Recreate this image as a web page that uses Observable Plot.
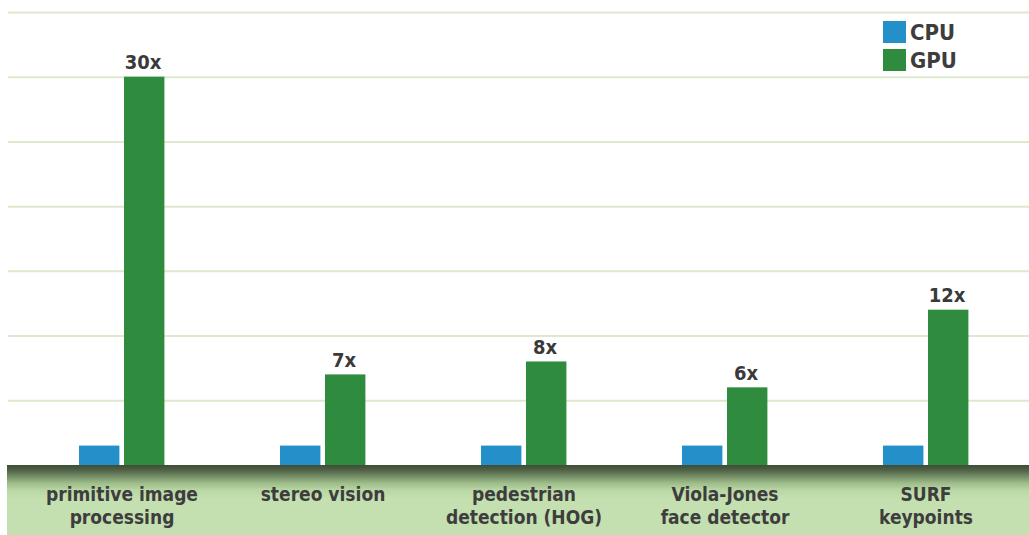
<!DOCTYPE html>
<html>
<head>
<meta charset="utf-8">
<script src="https://cdn.jsdelivr.net/npm/d3@7"></script>
<script src="https://cdn.jsdelivr.net/npm/@observablehq/plot@0.6"></script>
<style>
  html, body { margin: 0; padding: 0; background: #ffffff; }
  #wrap { position: relative; width: 1029px; height: 535px; overflow: hidden; }
  #legend { position: absolute; left: 883px; top: 18px; font-family: 'DejaVu Sans Condensed', 'DejaVu Sans', sans-serif;
            font-size: 22px; font-weight: bold; color: #3d3d3d; }
  #legend .row { display: flex; align-items: center; height: 28px; }
  #legend .sw { width: 23px; height: 22px; margin-right: 4px; }
</style>
</head>
<body>
<div id="wrap"></div>
<script>
// ---- data ----
const categories = [
  "primitive image\nprocessing",
  "stereo vision",
  "pedestrian\ndetection (HOG)",
  "Viola-Jones\nface detector",
  "SURF\nkeypoints"
];
const series = ["CPU", "GPU"];
const cpuValues = [1.5, 1.5, 1.5, 1.5, 1.5];
const gpuValues = [30, 7, 8, 6, 12];
const gpuLabels = ["30x", "7x", "8x", "6x", "12x"];
const gridTicks = [5, 10, 15, 20, 25, 30, 35];
const colors = ["#2490c9", "#2f8b3e"];

const rows = categories.map((c, i) => ({
  category: c, cpu: cpuValues[i], gpu: gpuValues[i], label: gpuLabels[i]
}));

const font = "'DejaVu Sans Condensed', 'DejaVu Sans', sans-serif";

const chart = Plot.plot({
  width: 1029,
  height: 535,
  marginTop: 12,
  marginBottom: 70,
  marginLeft: 8,
  marginRight: 0,
  style: {
    fontFamily: font,
    color: "#3a3a3a",
    background: "linear-gradient(to bottom, #3e4c36 0px, #4f6145 5px, #728a64 11px, #9dbc89 18px, #b9d7a4 25px, #c4e0b0 34px, #c4e0b0 70px) 7px 465px / calc(100% - 7px) 70px no-repeat, #ffffff"
  },
  x: { domain: categories, range: [19, 1027], padding: 0, axis: null },
  y: { domain: [0, 35], axis: null },
  marks: [
    Plot.ruleY(gridTicks, { stroke: "#dce9cc", strokeWidth: 2 }),
    Plot.barY(rows, { x: "category", y: "cpu", fill: colors[0], insetLeft: 58, insetRight: 102.6 }),
    Plot.barY(rows, { x: "category", y: "gpu", fill: colors[1], insetLeft: 103, insetRight: 57.6 }),
    Plot.text(rows, {
      x: "category", y: "gpu", text: "label", dx: 21, dy: -8,
      lineAnchor: "bottom", fontSize: 20, fontWeight: "bold", fill: "#3a3a3a"
    }),
    Plot.axisX({
      anchor: "bottom", tickSize: 0, tickPadding: 19, fontSize: 19,
      fontWeight: "bold", lineHeight: 1.22, fill: "#3d3d3d", label: null
    })
  ]
});

const wrap = document.getElementById("wrap");
wrap.appendChild(chart);

const legend = document.createElement("div");
legend.id = "legend";
series.forEach((s, i) => {
  const row = document.createElement("div");
  row.className = "row";
  const sw = document.createElement("div");
  sw.className = "sw";
  sw.style.background = colors[i];
  const label = document.createElement("span");
  label.textContent = s;
  row.appendChild(sw);
  row.appendChild(label);
  legend.appendChild(row);
});
wrap.appendChild(legend);
</script>
</body>
</html>
